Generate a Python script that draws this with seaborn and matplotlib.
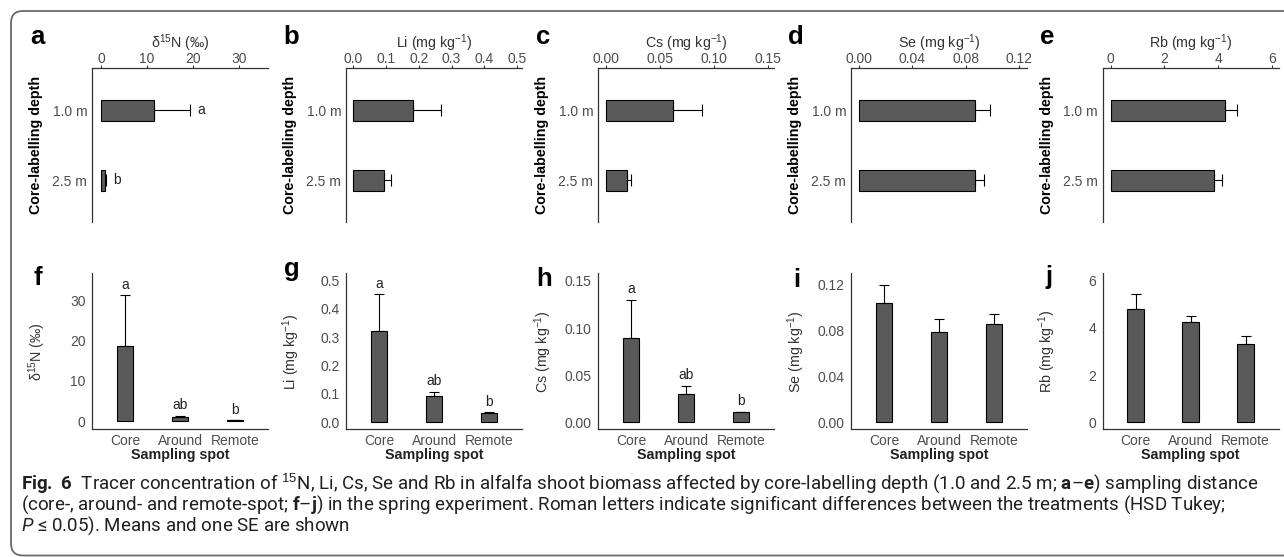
import numpy as np
import pandas as pd
import matplotlib
matplotlib.use("Agg")
import matplotlib.pyplot as plt
import matplotlib.transforms as mtransforms
from matplotlib.patches import FancyBboxPatch
import seaborn as sns

# ---------------- data ----------------
depths = ["1.0 m", "2.5 m"]
spots = ["Core", "Around", "Remote"]

n15_depth_mean = [11.5, 0.85]
n15_depth_se = [7.9, 0.25]
n15_depth_letters = ["a", "b"]
li_depth_mean = [0.183, 0.094]
li_depth_se = [0.086, 0.022]
cs_depth_mean = [0.0617, 0.0196]
cs_depth_se = [0.027, 0.0034]
se_depth_mean = [0.0867, 0.0867]
se_depth_se = [0.0118, 0.0068]
rb_depth_mean = [4.25, 3.86]
rb_depth_se = [0.45, 0.29]

n15_spot_mean = [18.7, 1.0, 0.15]
n15_spot_se = [12.6, 0.3, 0.1]
n15_spot_letters = ["a", "ab", "b"]
li_spot_mean = [0.321, 0.092, 0.033]
li_spot_se = [0.132, 0.016, 0.003]
li_spot_letters = ["a", "ab", "b"]
cs_spot_mean = [0.0893, 0.0303, 0.0106]
cs_spot_se = [0.0407, 0.0087, 0.0008]
cs_spot_letters = ["a", "ab", "b"]
se_spot_mean = [0.104, 0.0783, 0.0857]
se_spot_se = [0.0157, 0.0111, 0.0087]
rb_spot_mean = [4.81, 4.24, 3.32]
rb_spot_se = [0.61, 0.25, 0.34]

n15_ticks = ["0", "10", "20", "30"]
li_ticks = ["0.0", "0.1", "0.2", "0.3", "0.4", "0.5"]
cs_ticks = ["0.00", "0.05", "0.10", "0.15"]
se_ticks = ["0.00", "0.04", "0.08", "0.12"]
rb_ticks = ["0", "2", "4", "6"]

var_labels = [r"δ$^{15}$N (‰)", r"Li (mg kg$^{-1}$)", r"Cs (mg kg$^{-1}$)",
              r"Se (mg kg$^{-1}$)", r"Rb (mg kg$^{-1}$)"]
top_letters = ["a", "b", "c", "d", "e"]
bottom_letters = ["f", "g", "h", "i", "j"]
depth_title = "Core-labelling depth"
spot_title = "Sampling spot"

caption_lines = [
    r"$\mathbf{Fig.\ 6}$  Tracer concentration of $^{15}$N, Li, Cs, Se and Rb in alfalfa shoot biomass affected by core-labelling depth (1.0 and 2.5 m; $\mathbf{a}$–$\mathbf{e}$) sampling distance",
    r"(core-, around- and remote-spot; $\mathbf{f}$–$\mathbf{j}$) in the spring experiment. Roman letters indicate significant differences between the treatments (HSD Tukey;",
    r"$\mathit{P}$ ≤ 0.05). Means and one SE are shown",
]

# ---------------- style ----------------
sns.set_theme(style="white")
plt.rcParams["font.family"] = ["Liberation Sans", "DejaVu Sans"]
plt.rcParams["mathtext.fontset"] = "custom"
plt.rcParams["mathtext.rm"] = "Liberation Sans"
plt.rcParams["mathtext.bf"] = "Roboto:bold"
plt.rcParams["mathtext.it"] = "Roboto:italic"

W, H = 1284, 557
fig = plt.figure(figsize=(W / 100, H / 100), dpi=100)
fig.patch.set_facecolor("white")

BAR = "#595959"
SPINE = "#333333"
TICKLAB = "#4D4D4D"

lefts = [92, 346, 598, 851, 1102.5]
aw = 176
top_y0, top_y1 = 68, 222
bot_y0, bot_y1 = 273.3, 429.3

top_xlims = [(-1.96, 36.3), (-0.022, 0.515), (-0.0078, 0.156), (-0.0058, 0.126), (-0.31, 6.25)]
bot_ylims = [(-2.06, 36.7), (-0.025, 0.526), (-0.0074, 0.158), (-0.006, 0.1295), (-0.30, 6.31)]

depth_means = [n15_depth_mean, li_depth_mean, cs_depth_mean, se_depth_mean, rb_depth_mean]
depth_ses = [n15_depth_se, li_depth_se, cs_depth_se, se_depth_se, rb_depth_se]
depth_lets = [n15_depth_letters, None, None, None, None]
spot_means = [n15_spot_mean, li_spot_mean, cs_spot_mean, se_spot_mean, rb_spot_mean]
spot_ses = [n15_spot_se, li_spot_se, cs_spot_se, se_spot_se, rb_spot_se]
spot_lets = [n15_spot_letters, li_spot_letters, cs_spot_letters, None, None]
tick_sets = [n15_ticks, li_ticks, cs_ticks, se_ticks, rb_ticks]


def style_axis(ax):
    for s in ax.spines.values():
        s.set_color(SPINE)
        s.set_linewidth(0.9)
    ax.tick_params(length=2.2, width=0.8, color=SPINE, labelsize=10,
                   labelcolor=TICKLAB)


for i in range(5):
    # ---------- top row: horizontal bars by depth ----------
    ax = fig.add_axes([lefts[i] / W, 1 - top_y1 / H, aw / W, (top_y1 - top_y0) / H])
    dfd = pd.DataFrame({"depth": depths, "mean": depth_means[i], "se": depth_ses[i]})
    ax.errorbar(dfd["mean"], np.arange(len(depths)),
                xerr=[np.zeros(len(depths)), dfd["se"]], fmt="none",
                ecolor="black", elinewidth=0.8, capsize=4.5, capthick=0.8, zorder=0.5)
    sns.barplot(data=dfd, x="mean", y="depth", orient="h", color=BAR, saturation=1,
                width=0.3, edgecolor="black", linewidth=0.8, ax=ax, zorder=1)
    ax.set_ylim(1.6, -0.6)
    ax.set_xlim(*top_xlims[i])
    ax.xaxis.tick_top()
    ax.set_xticks([float(t) for t in tick_sets[i]])
    ax.set_xticklabels(tick_sets[i])
    ax.spines["right"].set_visible(False)
    ax.spines["bottom"].set_visible(False)
    style_axis(ax)
    ax.tick_params(axis="x", pad=-0.6)
    ax.tick_params(axis="y", pad=1.2)
    ax.set_xlabel(var_labels[i], fontsize=10.3, color="#333333")
    ax.xaxis.set_label_position("top")
    ax.xaxis.set_label_coords(0.5, (top_y1 - 43) / (top_y1 - top_y0))
    ax.xaxis.label.set_va("center")
    ax.set_ylabel(depth_title, fontsize=10.3, fontweight="bold", color="black")
    ax.yaxis.set_label_coords(-0.318, 0.5)
    ax.yaxis.label.set_va("center")
    if depth_lets[i] is not None:
        for k, lt in enumerate(depth_lets[i]):
            ax.annotate(lt, xy=(dfd["mean"][k] + dfd["se"][k], k), xytext=(8, 0),
                        textcoords="offset points", ha="center", va="center",
                        fontsize=10, color="#222222")
    fig.text((lefts[i] - 55) / W, 1 - 43.5 / H, top_letters[i], fontsize=18.5,
             fontweight="bold", ha="center", va="baseline", color="black")

    # ---------- bottom row: vertical bars by sampling spot ----------
    ax2 = fig.add_axes([lefts[i] / W, 1 - bot_y1 / H, aw / W, (bot_y1 - bot_y0) / H])
    dfs = pd.DataFrame({"spot": spots, "mean": spot_means[i], "se": spot_ses[i]})
    ax2.errorbar(np.arange(len(spots)), dfs["mean"],
                 yerr=[np.zeros(len(spots)), dfs["se"]], fmt="none",
                 ecolor="black", elinewidth=0.8, capsize=3.5, capthick=0.8, zorder=0.5)
    sns.barplot(data=dfs, x="spot", y="mean", color=BAR, saturation=1,
                width=0.3, edgecolor="black", linewidth=0.8, ax=ax2, zorder=1)
    ax2.set_xlim(-0.6, 2.6)
    ax2.set_ylim(*bot_ylims[i])
    ax2.set_yticks([float(t) for t in tick_sets[i]])
    ax2.set_yticklabels(tick_sets[i])
    ax2.spines["right"].set_visible(False)
    ax2.spines["top"].set_visible(False)
    style_axis(ax2)
    ax2.tick_params(axis="x", pad=1.0)
    ax2.tick_params(axis="y", pad=2.5)
    ax2.set_ylabel(var_labels[i], fontsize=10.3, color="#333333")
    ax2.yaxis.set_label_coords(-0.313, 0.5)
    ax2.yaxis.label.set_va("center")
    ax2.set_xlabel(spot_title, fontsize=10.3, fontweight="bold", color="#222222")
    ax2.xaxis.set_label_coords(0.5, (bot_y1 - 455) / (bot_y1 - bot_y0))
    ax2.xaxis.label.set_va("center")
    if spot_lets[i] is not None:
        for k, lt in enumerate(spot_lets[i]):
            ax2.annotate(lt, xy=(k, dfs["mean"][k] + dfs["se"][k]), xytext=(0, 7.5),
                         textcoords="offset points", ha="center", va="center",
                         fontsize=10, color="#222222")

bottom_letter_base = [285, 276, 286, 287, 284]
for i in range(5):
    fig.text((lefts[i] - 54) / W, 1 - bottom_letter_base[i] / H, bottom_letters[i],
             fontsize=18.5, fontweight="bold", ha="center", va="baseline", color="black")

# ---------------- border ----------------
border = FancyBboxPatch((11, 1.5), 1300, H - 11 - 1.5,
                        boxstyle="round,pad=0,rounding_size=12",
                        transform=mtransforms.IdentityTransform(),
                        facecolor="none", edgecolor="#6b6b6b", linewidth=1.3)
fig.add_artist(border)

# ---------------- caption ----------------
cap_base = [488.3, 509.3, 530.3]
cap_texts = []
for j, line in enumerate(caption_lines):
    t = fig.text(21 / W, 1 - cap_base[j] / H, line, fontsize=10,
                 family=["Roboto", "DejaVu Sans"],
                 color="#231F20", ha="left", va="baseline")
    cap_texts.append(t)

renderer = fig.canvas.get_renderer()
w1 = cap_texts[0].get_window_extent(renderer).width
scale = 1241.0 / w1
for t in cap_texts:
    t.set_fontsize(10 * scale)

fig.savefig("out.png", dpi=100)
